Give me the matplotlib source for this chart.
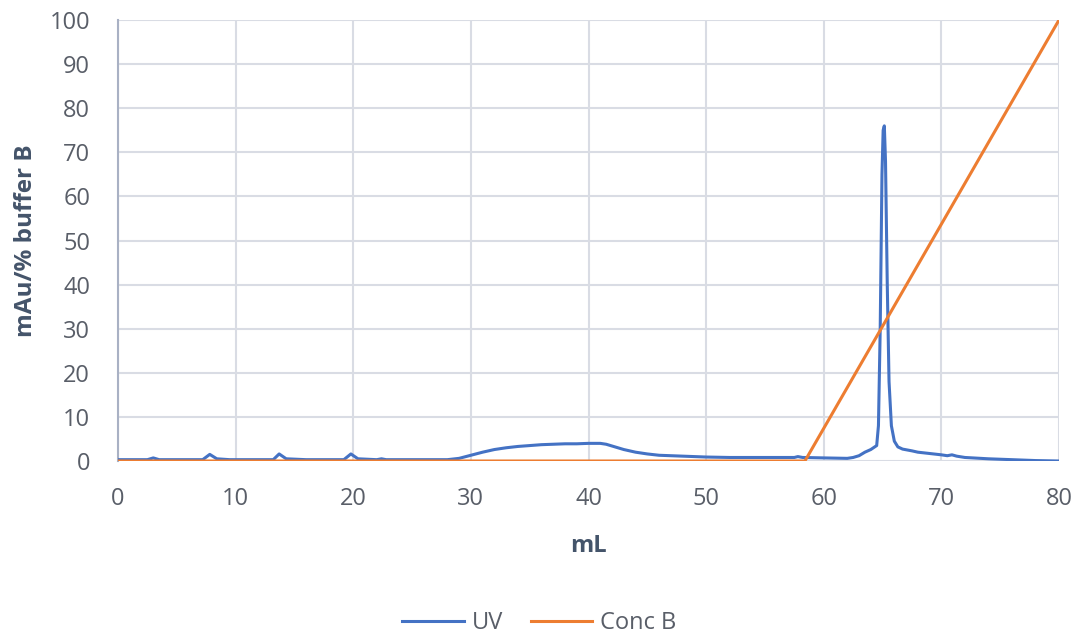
import matplotlib
matplotlib.use("Agg")
import matplotlib.pyplot as plt

plt.rcParams['font.family'] = ['Open Sans', 'DejaVu Sans']

# UV trace (mAu)
uv_ml = [0, 1, 2.5, 3.0, 3.5, 5, 7.2, 7.8, 8.4, 9.5, 12, 13.2, 13.7, 14.3, 16,
         19.2, 19.8, 20.4, 22, 22.4, 22.8, 26, 28, 29, 30, 31, 32, 33, 34, 35,
         36, 37, 38, 39, 40, 41, 41.5, 42, 43, 44, 45, 46, 48, 50, 52, 55,
         57.5, 57.8, 58.2, 60, 62, 62.5, 63, 63.5, 64, 64.5, 64.65, 64.8,
         64.95, 65.05, 65.15, 65.25, 65.4, 65.55, 65.75, 66.0, 66.3, 66.7,
         67.5, 68, 69, 70, 70.5, 70.9, 71.3, 72, 74, 76, 78, 80]
uv_mau = [0.3, 0.3, 0.3, 0.7, 0.3, 0.3, 0.3, 1.5, 0.5, 0.3, 0.3, 0.3, 1.6, 0.5,
          0.3, 0.3, 1.6, 0.5, 0.3, 0.5, 0.3, 0.3, 0.3, 0.6, 1.3, 2.0, 2.6, 3.0,
          3.3, 3.5, 3.7, 3.8, 3.9, 3.9, 4.0, 4.0, 3.8, 3.4, 2.6, 2.0, 1.6, 1.3,
          1.1, 0.9, 0.8, 0.8, 0.8, 1.0, 0.8, 0.7, 0.6, 0.8, 1.2, 2.0, 2.6, 3.5,
          8, 30, 65, 75, 76, 68, 40, 18, 8, 4.5, 3.2, 2.7, 2.3, 2.0, 1.7, 1.4,
          1.2, 1.4, 1.1, 0.8, 0.5, 0.3, 0.1, 0.0]

# gradient (% buffer B)
conc_ml = [0, 58.4, 80]
conc_b = [0, 0, 100]

fig = plt.figure(figsize=(10.79, 6.37), dpi=100)
ax = fig.add_axes([118 / 1079, 1 - 461 / 637, (1059 - 118) / 1079, (461 - 20) / 637])

ax.plot(uv_ml, uv_mau, color='#4472C4', lw=2.2, label='UV', zorder=3)
ax.plot(conc_ml, conc_b, color='#ED7D31', lw=2.2, label='Conc B', zorder=3)

ax.set_xlim(0, 80)
ax.set_ylim(0, 100)
ax.set_xticks(range(0, 81, 10))
ax.set_yticks(range(0, 101, 10))
ax.grid(True, color='#D9DCE4', lw=1.5)
ax.set_axisbelow(True)
for s in ax.spines.values():
    s.set_visible(False)
ax.spines['left'].set_visible(True)
ax.spines['left'].set_color('#A9B1C4')
ax.spines['left'].set_linewidth(1.5)
ax.tick_params(length=0, labelsize=17, colors='#595E68')
ax.tick_params(axis='y', pad=20)
ax.tick_params(axis='x', pad=19)

ax.set_xlabel('mL', fontsize=17, fontweight='bold', color='#44546A', labelpad=16)
ax.set_ylabel('mAu/% buffer B', fontsize=17.5, fontweight='bold', color='#44546A', labelpad=8)

fig.legend(loc='center', bbox_to_anchor=(0.5, 1 - 623 / 637), ncol=2, frameon=False,
           fontsize=17, labelcolor='#595E68', handlelength=2.6, handletextpad=0.35,
           columnspacing=1.15)

plt.savefig('out.png', dpi=100)
